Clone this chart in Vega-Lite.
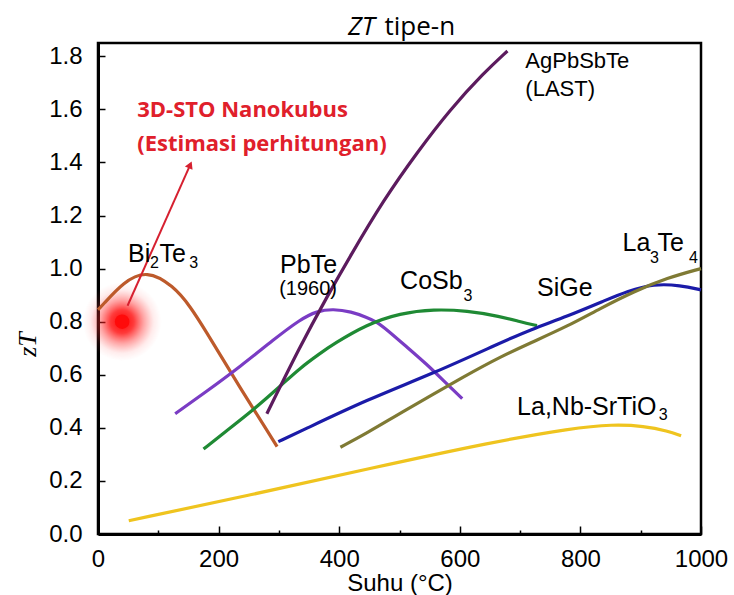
{
  "$schema": "https://vega.github.io/schema/vega-lite/v6.json",
  "width": 603,
  "height": 491,
  "autosize": {"type": "none"},
  "padding": {"left": 98, "top": 43, "right": 33, "bottom": 61},
  "background": "white",
  "config": {
    "view": {"stroke": "black", "strokeWidth": 2.5},
    "axis": {
      "domainColor": "black", "domainWidth": 3, "tickColor": "black", "tickWidth": 1.5,
      "labelColor": "black", "labelFont": "Liberation Sans", "labelFontSize": 24,
      "titleColor": "black", "grid": false
    },
    "text": {"font": "Liberation Sans", "color": "black"}
  },
  "datasets": {
    "curves": [
      {"series": "Bi2Te3", "x": 0, "y": 0.845}, {"series": "Bi2Te3", "x": 6, "y": 0.858}, {"series": "Bi2Te3", "x": 42, "y": 0.95}, {"series": "Bi2Te3", "x": 81, "y": 0.995}, {"series": "Bi2Te3", "x": 125, "y": 0.935}, {"series": "Bi2Te3", "x": 153, "y": 0.858}, {"series": "Bi2Te3", "x": 180, "y": 0.76}, {"series": "Bi2Te3", "x": 208, "y": 0.655}, {"series": "Bi2Te3", "x": 236, "y": 0.55}, {"series": "Bi2Te3", "x": 258, "y": 0.47}, {"series": "Bi2Te3", "x": 280, "y": 0.392}, {"series": "Bi2Te3", "x": 297, "y": 0.329},
      {"series": "PbTe", "x": 128, "y": 0.453}, {"series": "PbTe", "x": 180, "y": 0.537}, {"series": "PbTe", "x": 236, "y": 0.631}, {"series": "PbTe", "x": 291, "y": 0.732}, {"series": "PbTe", "x": 335, "y": 0.808}, {"series": "PbTe", "x": 363, "y": 0.84}, {"series": "PbTe", "x": 390, "y": 0.848}, {"series": "PbTe", "x": 420, "y": 0.838}, {"series": "PbTe", "x": 446, "y": 0.816}, {"series": "PbTe", "x": 462, "y": 0.8}, {"series": "PbTe", "x": 479, "y": 0.77}, {"series": "PbTe", "x": 512, "y": 0.705}, {"series": "PbTe", "x": 545, "y": 0.64}, {"series": "PbTe", "x": 573, "y": 0.578}, {"series": "PbTe", "x": 604, "y": 0.51},
      {"series": "CoSb3", "x": 175, "y": 0.32}, {"series": "CoSb3", "x": 208, "y": 0.38}, {"series": "CoSb3", "x": 258, "y": 0.468}, {"series": "CoSb3", "x": 308, "y": 0.569}, {"series": "CoSb3", "x": 335, "y": 0.625}, {"series": "CoSb3", "x": 368, "y": 0.68}, {"series": "CoSb3", "x": 390, "y": 0.715}, {"series": "CoSb3", "x": 446, "y": 0.79}, {"series": "CoSb3", "x": 501, "y": 0.832}, {"series": "CoSb3", "x": 557, "y": 0.847}, {"series": "CoSb3", "x": 612, "y": 0.841}, {"series": "CoSb3", "x": 667, "y": 0.82}, {"series": "CoSb3", "x": 700, "y": 0.8}, {"series": "CoSb3", "x": 728, "y": 0.785},
      {"series": "SiGe", "x": 299, "y": 0.348}, {"series": "SiGe", "x": 335, "y": 0.386}, {"series": "SiGe", "x": 446, "y": 0.506}, {"series": "SiGe", "x": 557, "y": 0.606}, {"series": "SiGe", "x": 667, "y": 0.72}, {"series": "SiGe", "x": 717, "y": 0.77}, {"series": "SiGe", "x": 778, "y": 0.82}, {"series": "SiGe", "x": 845, "y": 0.884}, {"series": "SiGe", "x": 877, "y": 0.914}, {"series": "SiGe", "x": 922, "y": 0.943}, {"series": "SiGe", "x": 966, "y": 0.937}, {"series": "SiGe", "x": 1000, "y": 0.92},
      {"series": "La3Te4", "x": 402, "y": 0.327}, {"series": "La3Te4", "x": 446, "y": 0.38}, {"series": "La3Te4", "x": 501, "y": 0.455}, {"series": "La3Te4", "x": 612, "y": 0.6}, {"series": "La3Te4", "x": 668, "y": 0.668}, {"series": "La3Te4", "x": 717, "y": 0.72}, {"series": "La3Te4", "x": 778, "y": 0.782}, {"series": "La3Te4", "x": 833, "y": 0.85}, {"series": "La3Te4", "x": 889, "y": 0.914}, {"series": "La3Te4", "x": 944, "y": 0.965}, {"series": "La3Te4", "x": 1000, "y": 1.0},
      {"series": "AgPbSbTe", "x": 280, "y": 0.453}, {"series": "AgPbSbTe", "x": 335, "y": 0.707}, {"series": "AgPbSbTe", "x": 380, "y": 0.895}, {"series": "AgPbSbTe", "x": 418, "y": 1.046}, {"series": "AgPbSbTe", "x": 474, "y": 1.26}, {"series": "AgPbSbTe", "x": 529, "y": 1.437}, {"series": "AgPbSbTe", "x": 584, "y": 1.6}, {"series": "AgPbSbTe", "x": 640, "y": 1.738}, {"series": "AgPbSbTe", "x": 679, "y": 1.82},
      {"series": "SrTiO3", "x": 51, "y": 0.05}, {"series": "SrTiO3", "x": 253, "y": 0.147}, {"series": "SrTiO3", "x": 453, "y": 0.248}, {"series": "SrTiO3", "x": 653, "y": 0.346}, {"series": "SrTiO3", "x": 787, "y": 0.399}, {"series": "SrTiO3", "x": 853, "y": 0.413}, {"series": "SrTiO3", "x": 906, "y": 0.407}, {"series": "SrTiO3", "x": 945, "y": 0.388}, {"series": "SrTiO3", "x": 967, "y": 0.37}
    ],
    "spot": [{"x": 40, "y": 0.8}],
    "arrow": [{"x": 49, "y": 0.86, "x2": 152.9, "y2": 1.391}],
    "arrowhead": [{"x": 152.9, "y": 1.391}],
    "note": [
      {"t": "3D-STO Nanokubus", "x": 65, "y": 1.57},
      {"t": "(Estimasi perhitungan)", "x": 65, "y": 1.443}
    ],
    "labels": [
      {"t": "Bi", "x": 49.8, "y": 1.026}, {"t": "Te", "x": 102, "y": 1.026},
      {"t": "PbTe", "x": 302, "y": 0.985}, {"t": "CoSb", "x": 501, "y": 0.923},
      {"t": "SiGe", "x": 728, "y": 0.896}, {"t": "La", "x": 870, "y": 1.065},
      {"t": "Te", "x": 928, "y": 1.065}, {"t": "La,Nb-SrTiO", "x": 695, "y": 0.449}
    ],
    "subs": [
      {"t": "2", "x": 86.3, "y": 1.004}, {"t": "3", "x": 151.5, "y": 1.004},
      {"t": "3", "x": 606, "y": 0.877}, {"t": "3", "x": 915.6, "y": 1.021},
      {"t": "4", "x": 980, "y": 1.021}, {"t": "3", "x": 930, "y": 0.43}
    ],
    "small": [
      {"t": "AgPbSbTe", "x": 708.7, "y": 1.757}, {"t": "(LAST)", "x": 708.7, "y": 1.65}
    ],
    "year": [{"t": "(1960)", "x": 300.5, "y": 0.9}]
  },
  "layer": [
    {
      "data": {"name": "spot"},
      "mark": {
        "type": "circle", "size": 6200, "opacity": 1,
        "color": {
          "gradient": "radial", "x1": 0.5, "y1": 0.5, "r1": 0, "x2": 0.5, "y2": 0.5, "r2": 0.5,
          "stops": [
            {"offset": 0, "color": "rgba(255,0,0,1)"},
            {"offset": 0.3, "color": "rgba(255,10,10,0.8)"},
            {"offset": 0.55, "color": "rgba(255,40,40,0.42)"},
            {"offset": 0.8, "color": "rgba(255,70,70,0.1)"},
            {"offset": 1, "color": "rgba(255,90,90,0)"}
          ]
        }
      },
      "encoding": {
        "x": {
          "field": "x", "type": "quantitative",
          "scale": {"domain": [0, 1000], "nice": false, "zero": false},
          "axis": {
            "values": [0, 50, 100, 150, 200, 250, 300, 350, 400, 450, 500, 550, 600, 650, 700, 750, 800, 850, 900, 950, 1000],
            "format": "d",
            "labelExpr": "datum.value % 200 === 0 ? datum.label : ''",
            "tickSize": {"condition": {"test": "datum.value % 200 === 0", "value": -8}, "value": -4},
            "labelPadding": 21,
            "labelFlush": false,
            "title": "Suhu (°C)", "titleFont": "Liberation Sans", "titleFontSize": 24,
            "titleFontWeight": "normal", "titleY": 56, "titleBaseline": "alphabetic"
          }
        },
        "y": {
          "field": "y", "type": "quantitative",
          "scale": {"domain": [0, 1.85], "nice": false, "zero": false},
          "axis": {
            "values": [0, 0.2, 0.4, 0.6, 0.8, 1.0, 1.2, 1.4, 1.6, 1.8],
            "format": ".1f", "tickSize": -7, "labelPadding": 23, "labelFlush": false,
            "title": "zT", "titleFont": "Liberation Serif", "titleFontStyle": "italic",
            "titleFontWeight": "normal", "titleFontSize": 26, "titleAngle": -90,
            "titleX": -71, "titleY": 301, "titleAlign": "center", "titleBaseline": "middle"
          }
        }
      }
    },
    {
      "data": {"name": "curves"},
      "mark": {"type": "line", "strokeWidth": 3.2, "interpolate": "basis"},
      "encoding": {
        "x": {"field": "x", "type": "quantitative"},
        "y": {"field": "y", "type": "quantitative"},
        "color": {
          "field": "series", "type": "nominal", "legend": null,
          "scale": {
            "domain": ["Bi2Te3", "PbTe", "CoSb3", "SiGe", "La3Te4", "AgPbSbTe", "SrTiO3"],
            "range": ["#bd5a2b", "#7a3cc4", "#1f8a34", "#1b1ba8", "#7f7a34", "#5c1b5e", "#efc41f"]
          }
        }
      }
    },
    {
      "data": {"name": "spot"},
      "mark": {"type": "circle", "size": 210, "opacity": 1, "color": "#ff0a0a"},
      "encoding": {
        "x": {"field": "x", "type": "quantitative"},
        "y": {"field": "y", "type": "quantitative"}
      }
    },
    {
      "data": {"name": "arrow"},
      "mark": {"type": "rule", "color": "#d62030", "strokeWidth": 2},
      "encoding": {
        "x": {"field": "x", "type": "quantitative"},
        "y": {"field": "y", "type": "quantitative"},
        "x2": {"field": "x2"},
        "y2": {"field": "y2"}
      }
    },
    {
      "data": {"name": "arrowhead"},
      "mark": {"type": "point", "shape": "triangle-up", "filled": true, "size": 70, "angle": 24, "opacity": 1, "color": "#d62030"},
      "encoding": {
        "x": {"field": "x", "type": "quantitative"},
        "y": {"field": "y", "type": "quantitative"}
      }
    },
    {
      "data": {"name": "note"},
      "mark": {"type": "text", "font": "Open Sans", "fontWeight": "bold", "fontSize": 22, "color": "#e0202b", "align": "left", "baseline": "alphabetic"},
      "encoding": {
        "x": {"field": "x", "type": "quantitative"},
        "y": {"field": "y", "type": "quantitative"},
        "text": {"field": "t"}
      }
    },
    {
      "data": {"name": "labels"},
      "mark": {"type": "text", "fontSize": 25, "align": "left", "baseline": "alphabetic"},
      "encoding": {
        "x": {"field": "x", "type": "quantitative"},
        "y": {"field": "y", "type": "quantitative"},
        "text": {"field": "t"}
      }
    },
    {
      "data": {"name": "subs"},
      "mark": {"type": "text", "fontSize": 16, "align": "left", "baseline": "alphabetic"},
      "encoding": {
        "x": {"field": "x", "type": "quantitative"},
        "y": {"field": "y", "type": "quantitative"},
        "text": {"field": "t"}
      }
    },
    {
      "data": {"name": "small"},
      "mark": {"type": "text", "fontSize": 22, "align": "left", "baseline": "alphabetic"},
      "encoding": {
        "x": {"field": "x", "type": "quantitative"},
        "y": {"field": "y", "type": "quantitative"},
        "text": {"field": "t"}
      }
    },
    {
      "data": {"name": "year"},
      "mark": {"type": "text", "fontSize": 20, "align": "left", "baseline": "alphabetic"},
      "encoding": {
        "x": {"field": "x", "type": "quantitative"},
        "y": {"field": "y", "type": "quantitative"},
        "text": {"field": "t"}
      }
    },
    {
      "data": {"values": [{"t": "ZT"}]},
      "mark": {"type": "text", "font": "Open Sans", "fontSize": 26, "fontStyle": "italic", "align": "right", "baseline": "alphabetic", "dy": -8},
      "encoding": {
        "x": {"datum": 459},
        "y": {"datum": 1.85},
        "text": {"field": "t"}
      }
    },
    {
      "data": {"values": [{"t": "tipe-n"}]},
      "mark": {"type": "text", "font": "Open Sans", "fontSize": 26, "align": "left", "baseline": "alphabetic", "dy": -8},
      "encoding": {
        "x": {"datum": 475},
        "y": {"datum": 1.85},
        "text": {"field": "t"}
      }
    }
  ]
}
